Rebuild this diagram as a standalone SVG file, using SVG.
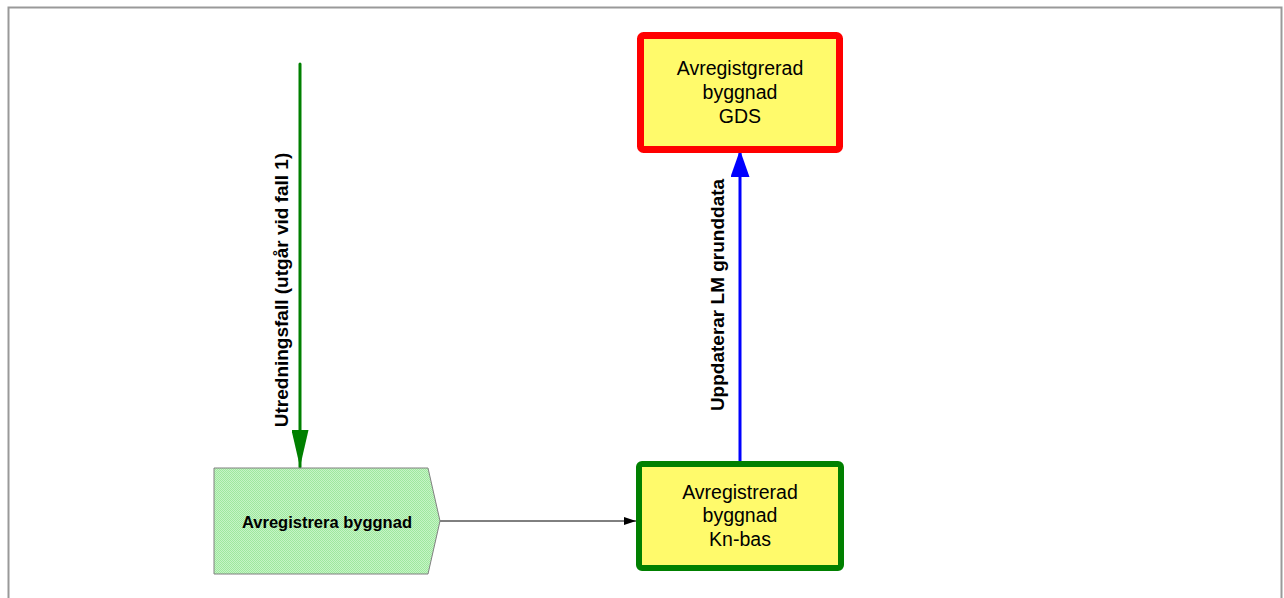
<svg xmlns="http://www.w3.org/2000/svg" width="1284" height="598" viewBox="0 0 1284 598">
<style>
.t{font-family:"Liberation Sans",Arial,sans-serif;fill:#000;text-anchor:middle}
.box{font-size:19.5px}
.lbl{font-size:19px;font-weight:bold}
</style>
<defs>
<pattern id="chk" width="2" height="2" patternUnits="userSpaceOnUse">
<rect width="2" height="2" fill="#c6f4c6"/>
<rect width="1" height="1" fill="#9ee89e"/>
<rect x="1" y="1" width="1" height="1" fill="#9ee89e"/>
</pattern>
<marker id="ag" markerWidth="37" markerHeight="17" refX="37" refY="8.5" orient="auto" markerUnits="userSpaceOnUse" viewBox="0 0 37 17">
<path d="M0,0 L37,8.5 L0,17 Z" fill="#008000"/>
</marker>
<marker id="ab" markerWidth="27" markerHeight="19" refX="27" refY="9.5" orient="auto" markerUnits="userSpaceOnUse" viewBox="0 0 27 19">
<path d="M0,0 L27,9.5 L0,19 Z" fill="#0000ff"/>
</marker>
<marker id="ak" markerWidth="12" markerHeight="8" refX="12" refY="4" orient="auto" markerUnits="userSpaceOnUse" viewBox="0 0 12 8">
<path d="M0,0 L12,4 L0,8 Z" fill="#000"/>
</marker>
</defs>
<rect width="1284" height="598" fill="#fff"/>
<path d="M8.5,598 V7.5 H1281.5 V598" fill="none" stroke="#999" stroke-width="2"/>
<g id="connectors">
<line x1="300" y1="64" x2="300" y2="467" stroke="#008000" stroke-width="3" stroke-linecap="round" marker-end="url(#ag)"/>
<line x1="740" y1="462" x2="740" y2="150" stroke="#0000ff" stroke-width="3" marker-end="url(#ab)"/>
<line x1="440" y1="521" x2="636" y2="521" stroke="#000" stroke-width="1" marker-end="url(#ak)"/>
<text class="t lbl" transform="translate(288,290) rotate(-90)">Utredningsfall (utgår vid fall 1)</text>
<text class="t lbl" transform="translate(724,295) rotate(-90)">Uppdaterar LM grunddata</text>
</g>
<g id="node-avregistrera">
<path d="M214,468 H428 L440,521 L428,574 H214 Z" fill="url(#chk)" stroke="#808080" stroke-width="1"/>
<text class="t" x="327" y="528" font-size="16.5" font-weight="bold">Avregistrera byggnad</text>
</g>
<g id="node-gds">
<rect x="640.5" y="35.5" width="199" height="114" rx="3" fill="#fffa6b" stroke="#ff0000" stroke-width="7"/>
<text class="t box" x="740" y="75">Avregistgrerad</text>
<text class="t box" x="740" y="99">byggnad</text>
<text class="t box" x="740" y="123">GDS</text>
</g>
<g id="node-knbas">
<rect x="639" y="464" width="202" height="104" rx="3" fill="#fffa6b" stroke="#008000" stroke-width="6"/>
<text class="t box" x="740" y="499">Avregistrerad</text>
<text class="t box" x="740" y="522">byggnad</text>
<text class="t box" x="740" y="546">Kn-bas</text>
</g>
</svg>
